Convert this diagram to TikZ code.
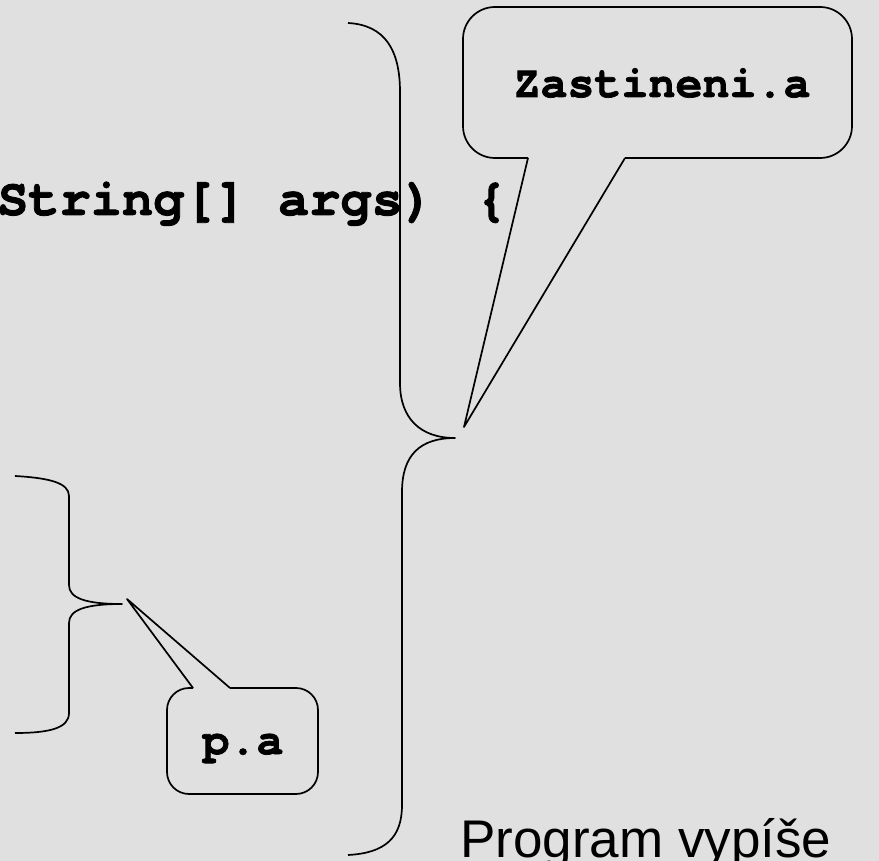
\documentclass[tikz,border=0pt]{standalone}
\usepackage{fontspec}
\newfontfamily\codefont{TeX Gyre Cursor}[BoldFeatures={FakeBold=1.6}]
\setsansfont{Liberation Sans}
\definecolor{bgmarble}{RGB}{224,224,224}
\tikzset{
  lineart/.style={draw=black, line width=1.7pt, line join=round},
  codetext/.style={font=\codefont\bfseries\fontsize{45}{50}\selectfont, inner sep=0pt},
  bigcode/.style={font=\codefont\bfseries\fontsize{52}{58}\selectfont, inner sep=0pt},
  plaintext/.style={font=\sffamily\fontsize{53}{60}\selectfont, inner sep=0pt}
}
\begin{document}
\begin{tikzpicture}[x=1pt,y=-1pt]
\useasboundingbox (0,0) rectangle (879,861);
\clip (0,0) rectangle (879,861);
\fill[bgmarble] (0,0) rectangle (879,861);

% text nodes
\node[bigcode, anchor=base west] (code) at (-3,215) {String[] args)\hspace{42pt}\{};
\node[codetext, anchor=base] (zast) at (662,97) {Zastineni.a};
\node[codetext, anchor=base] (pa) at (243,754) {p.a};
\node[plaintext, anchor=base west] (prog) at (460,857) {Program vypíše};

% tips
\coordinate (bigtip) at (455,438);
\coordinate (smalltip) at (122,604);
\coordinate (ztip) at (464,427);
\coordinate (ptip) at (127,599);

% big brace
\draw[lineart] (348,23) .. controls (385,25) and (400,50) .. (400,92) -- (400,383)
  .. controls (400,418) and (420,438) .. (bigtip)
  .. controls (420,438) and (402,455) .. (402,492) -- (402,805)
  .. controls (402,838) and (385,853) .. (348,855);

% small brace
\draw[lineart] (15,476) .. controls (50,478) and (69,483) .. (69,496) -- (69,585)
  .. controls (69,598) and (85,604) .. (smalltip)
  .. controls (85,604) and (69,610) .. (69,623) -- (69,713)
  .. controls (69,728) and (50,733) .. (15,733);

% Zastineni callout
\draw[lineart, rounded corners=32] (528,158) -- (463,158) -- (463,7) -- (852,7) -- (852,158) -- (625,158);
\draw[lineart] (528,158) -- (ztip) -- (625,158);

% p.a callout
\draw[lineart, rounded corners=22] (193,688) -- (167,688) -- (167,794) -- (318,794) -- (318,688) -- (230,688);
\draw[lineart] (193,688) -- (ptip) -- (230,688);
\end{tikzpicture}
\end{document}
